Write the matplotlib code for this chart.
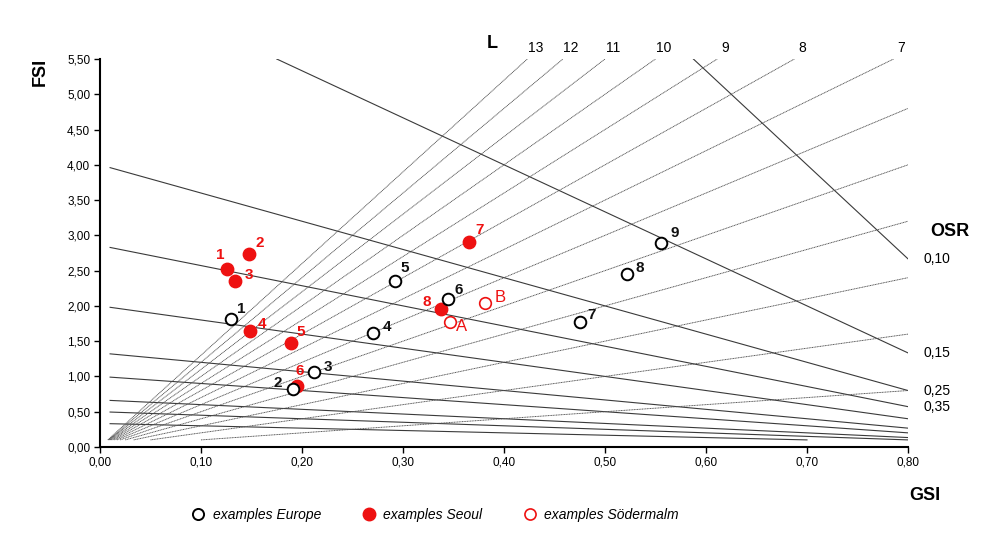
import matplotlib
matplotlib.use('Agg')
from matplotlib import pyplot as plt
from matplotlib.lines import Line2D
import numpy as np

plt.rcParams['font.family'] = ['Liberation Sans', 'DejaVu Sans']

# spacemate reference lines
osr_values = [0.075, 0.15, 0.25, 0.35, 0.5, 0.75, 1.0, 1.5, 2.0, 3.0]
l_values = [1, 2, 3, 4, 5, 6, 7, 8, 9, 10, 11, 12, 13]
l_labels = [7, 8, 9, 10, 11, 12, 13]
osr_labels = {'0,10': 0.075, '0,15': 0.15, '0,25': 0.25, '0,35': 0.35}

# examples Europe (open black)
eu_names = ['1', '2', '3', '4', '5', '6', '7', '8', '9']
eu_gsi = [0.130, 0.191, 0.212, 0.270, 0.292, 0.345, 0.475, 0.522, 0.555]
eu_fsi = [1.81, 0.82, 1.06, 1.62, 2.35, 2.10, 1.77, 2.45, 2.89]

# examples Seoul (filled red)
se_names = ['1', '2', '3', '4', '5', '6', '7', '8']
se_gsi = [0.126, 0.148, 0.134, 0.149, 0.189, 0.195, 0.365, 0.338]
se_fsi = [2.52, 2.74, 2.35, 1.65, 1.47, 0.87, 2.91, 1.96]

# examples Södermalm (open red)
so_names = ['A', 'B']
so_gsi = [0.347, 0.381]
so_fsi = [1.77, 2.04]

xmax, ymax, fmin = 0.80, 5.50, 0.10

fig = plt.figure(figsize=(10, 5.34), dpi=100)
ax = fig.add_axes([0.100, 0.163, 0.808, 0.7265])

# OSR lines: FSI = (1 - GSI) / OSR
for osr in osr_values:
    g0 = max(0.01, 1 - ymax * osr)
    g1 = min(xmax, 1 - fmin * osr)
    g = np.array([g0, g1])
    ax.plot(g, (1 - g) / osr, color='#3a3a3a', lw=0.8, zorder=1)

# L lines: FSI = L * GSI
for L in l_values:
    g = np.array([fmin / L, min(xmax, ymax / L)])
    ax.plot(g, L * g, color='#505050', lw=0.65, ls=(0, (1.2, 0.6)), zorder=1)

for L in l_labels:
    ax.annotate(str(L), (ymax / L, ymax), xytext=(8, 4), textcoords='offset pixels',
                ha='center', va='bottom', fontsize=10, annotation_clip=False)
ax.text(0.388, 5.60, 'L', fontsize=13, fontweight='bold', ha='center', va='bottom')

for lab, osr in osr_labels.items():
    ax.annotate(lab, (xmax, (1 - xmax) / osr), xytext=(16, 0), textcoords='offset pixels',
                ha='left', va='center', fontsize=10, annotation_clip=False)
ax.text(0.822, 3.05, 'OSR', fontsize=13, fontweight='bold', ha='left', va='center')

# points
ax.scatter(se_gsi, se_fsi, s=80, color='#ee1111', edgecolors='#ee1111', zorder=3)
ax.scatter(eu_gsi, eu_fsi, s=70, facecolors='white', edgecolors='black', linewidths=1.4, zorder=4)
ax.scatter(so_gsi, so_fsi, s=70, facecolors='white', edgecolors='#ee1111', linewidths=1.2, zorder=4)

eu_off = [(10, 10), (-15, 6), (14, 5), (14, 6), (10, 13), (10, 9), (12, 7), (13, 6), (14, 10)]
se_off = [(-7, 14), (10, 11), (14, 6), (12, 7), (10, 11), (3, 15), (11, 12), (-15, 7)]
so_off = [(11, -4), (15, 6)]

for n, x, y, o in zip(eu_names, eu_gsi, eu_fsi, eu_off):
    ax.annotate(n, (x, y), xytext=o, textcoords='offset pixels', ha='center', va='center',
                fontsize=11, fontweight='bold', color='#111111', zorder=5)
for n, x, y, o in zip(se_names, se_gsi, se_fsi, se_off):
    ax.annotate(n, (x, y), xytext=o, textcoords='offset pixels', ha='center', va='center',
                fontsize=11, fontweight='bold', color='#ee1111', zorder=5)
for n, x, y, o in zip(so_names, so_gsi, so_fsi, so_off):
    ax.annotate(n, (x, y), xytext=o, textcoords='offset pixels', ha='center', va='center',
                fontsize=12, color='#ee1111', zorder=5)

ax.set_xlim(0, xmax)
ax.set_ylim(0, ymax)
xt = np.arange(0, 0.81, 0.1)
yt = np.arange(0, 5.51, 0.5)
ax.set_xticks(xt)
ax.set_yticks(yt)
ax.set_xticklabels([f'{v:.2f}'.replace('.', ',') for v in xt], fontsize=8.5)
ax.set_yticklabels([f'{v:.2f}'.replace('.', ',') for v in yt], fontsize=8.5)
ax.tick_params(direction='out', length=4, width=1, color='black', pad=3)
for s in ['top', 'right']:
    ax.spines[s].set_visible(False)
for s in ['left', 'bottom']:
    ax.spines[s].set_linewidth(1.5)

fig.text(0.040, 0.865, 'FSI', rotation=90, fontsize=13, fontweight='bold', ha='center', va='center')
fig.text(0.925, 0.073, 'GSI', fontsize=13, fontweight='bold', ha='center', va='center')

handles = [
    Line2D([], [], ls='none', marker='o', ms=8, mfc='white', mec='black', mew=1.4),
    Line2D([], [], ls='none', marker='o', ms=9, mfc='#ee1111', mec='#ee1111'),
    Line2D([], [], ls='none', marker='o', ms=8, mfc='white', mec='#ee1111', mew=1.2),
]
fig.legend(handles, ['examples Europe', 'examples Seoul', 'examples Södermalm'],
           loc='center left', bbox_to_anchor=(0.179, 0.036), ncol=3, frameon=False,
           prop={'style': 'italic', 'size': 10}, handletextpad=0.55, columnspacing=2.9,
           handlelength=1.0)

fig.savefig('out.png', dpi=100)
